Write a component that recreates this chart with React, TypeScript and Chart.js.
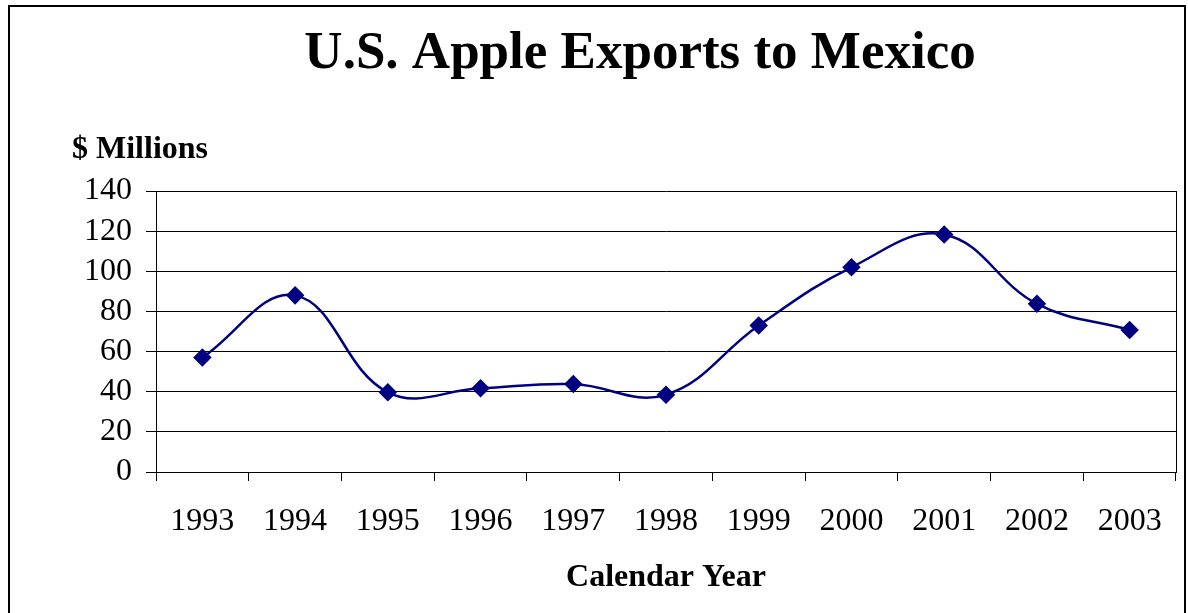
import React, { useEffect, useRef } from "react";
import { Chart, registerables } from "chart.js";

Chart.register(...registerables);

const years = ["1993", "1994", "1995", "1996", "1997", "1998", "1999", "2000", "2001", "2002", "2003"];
const exportsMillions = [57, 88, 39.7, 41.7, 43.8, 38.5, 73, 102, 118.3, 83.8, 70.8];
const titleText = "U.S. Apple Exports to Mexico";
const yAxisTitle = "$ Millions";
const xAxisTitle = "Calendar Year";
const yMin = 0;
const yMax = 140;
const yStep = 20;

const SERIF = "'Liberation Serif', 'Times New Roman', serif";

const decorPlugin = {
  id: "decor",
  beforeDraw(chart: any) {
    const ctx = chart.ctx;
    ctx.save();
    ctx.fillStyle = "#ffffff";
    ctx.fillRect(0, 0, chart.width, chart.height);
    ctx.strokeStyle = "#000000";
    ctx.lineWidth = 2;
    ctx.strokeRect(9, 6, 1176, 700);
    ctx.restore();
  },
  afterDraw(chart: any) {
    const ctx = chart.ctx;
    const a = chart.chartArea;
    ctx.save();
    ctx.strokeStyle = "#000000";
    ctx.lineWidth = 1;
    ctx.beginPath();
    ctx.moveTo(Math.round(a.right) + 0.5, a.top);
    ctx.lineTo(Math.round(a.right) + 0.5, a.bottom);
    ctx.stroke();
    ctx.fillStyle = "#000000";
    ctx.textBaseline = "alphabetic";
    ctx.font = `bold 53px ${SERIF}`;
    ctx.textAlign = "center";
    ctx.fillText(titleText, 640, 68);
    ctx.font = `bold 32px ${SERIF}`;
    ctx.textAlign = "left";
    ctx.fillText(yAxisTitle, 72, 158);
    ctx.textAlign = "center";
    ctx.fillText(xAxisTitle, (a.left + a.right) / 2, 586);
    ctx.restore();
  },
};

export default function App() {
  const ref = useRef<HTMLCanvasElement | null>(null);
  useEffect(() => {
    if (!ref.current) return;
    const chart = new Chart(ref.current, {
      type: "line",
      data: {
        labels: years,
        datasets: [
          {
            data: exportsMillions,
            borderColor: "#000080",
            backgroundColor: "#000080",
            borderWidth: 2.5,
            pointStyle: "rectRot",
            pointRadius: 7.5,
            pointHoverRadius: 7.5,
            pointBackgroundColor: "#000080",
            pointBorderColor: "#000080",
            tension: 0.4,
            fill: false,
          },
        ],
      },
      options: {
        animation: false,
        responsive: true,
        maintainAspectRatio: false,
        devicePixelRatio: 1,
        layout: { padding: { top: 191, right: 12, left: 0, bottom: 0 } },
        plugins: {
          legend: { display: false },
          title: { display: false },
          tooltip: { enabled: false },
        },
        scales: {
          x: {
            offset: true,
            afterFit: (s: any) => {
              s.height = 141;
            },
            grid: {
              offset: true,
              drawOnChartArea: false,
              drawTicks: true,
              tickLength: 9,
              color: "#000000",
              lineWidth: 1,
            },
            border: { display: true, color: "#000000", width: 1 },
            ticks: {
              color: "#000000",
              font: { family: SERIF, size: 32 },
              padding: 21,
              maxRotation: 0,
              autoSkip: false,
            },
          },
          y: {
            min: yMin,
            max: yMax,
            afterFit: (s: any) => {
              s.width = 156;
            },
            grid: {
              color: "#000000",
              lineWidth: 1,
              drawTicks: true,
              tickLength: 10,
            },
            border: { display: true, color: "#000000", width: 1 },
            ticks: {
              stepSize: yStep,
              autoSkip: false,
              color: "#000000",
              font: { family: SERIF, size: 32 },
              padding: 14,
            },
          },
        },
      },
      plugins: [decorPlugin],
    });
    return () => chart.destroy();
  }, []);
  return (
    <div style={{ position: "fixed", left: 0, top: 0, width: 1188, height: 613, background: "#fff" }}>
      <canvas ref={ref} />
    </div>
  );
}
